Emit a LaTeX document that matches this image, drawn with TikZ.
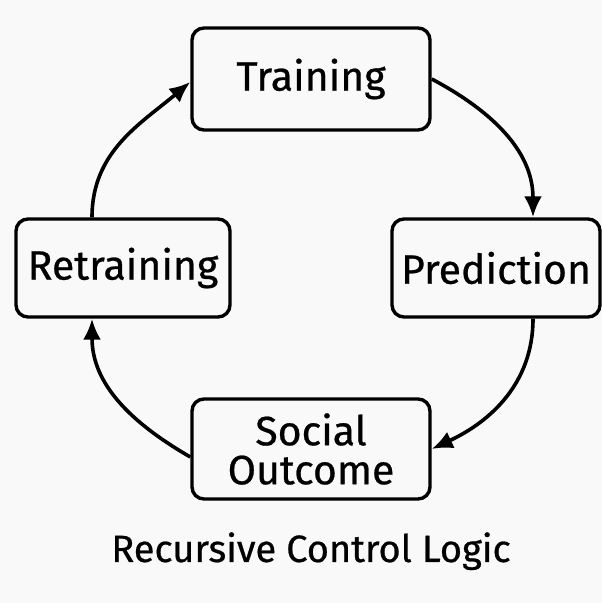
\documentclass[tikz,border=0pt]{standalone}
\usepackage{fontspec}
\setmainfont{Fira Sans}[FakeBold=0.6]
\usetikzlibrary{arrows.meta}
\definecolor{bgpaper}{HTML}{F9F9F9}
\tikzset{>/.tip={Latex[length=10.5pt,width=9pt]},
  stage/.style={draw, line width=1.7pt, rounded corners=6pt, fill=bgpaper, align=center,
    inner sep=0pt, font=\fontsize{20.5}{19.5}\selectfont},
  flow/.style={->, line width=1.8pt}}

\begin{document}
\begin{tikzpicture}[x=0.5pt,y=0.5pt]
\fill[bgpaper] (0,0) rectangle (602,603);
\useasboundingbox (0,0) rectangle (602,603);
\node[stage, minimum width=119pt, minimum height=51pt] (train) at (311,524) {Training};
\node[stage, minimum width=107pt, minimum height=49pt] (retrain) at (123,335) {Retraining};
\node[stage, minimum width=104pt, minimum height=49pt] (pred) at (496,335) {Prediction};
\node[stage, minimum width=119pt, minimum height=50pt] (social) at (311,154) {Social\\Outcome};
\node[font=\fontsize{19}{24}\selectfont, anchor=base] (title) at (311,41) {Recursive Control Logic};

\draw[flow] (train.east) to[out=-28, in=90] ([xshift=18.5pt]pred.north);
\draw[flow] ([xshift=18.5pt]pred.south) to[out=-90, in=25] (social.east);
\draw[flow] ([yshift=-4pt]social.west) to[out=150, in=-90] ([xshift=-15.5pt]retrain.south);
\draw[flow] ([xshift=-15.5pt]retrain.north) to[out=90, in=-140] ([yshift=-1.5pt]train.west);
\end{tikzpicture}
\end{document}
